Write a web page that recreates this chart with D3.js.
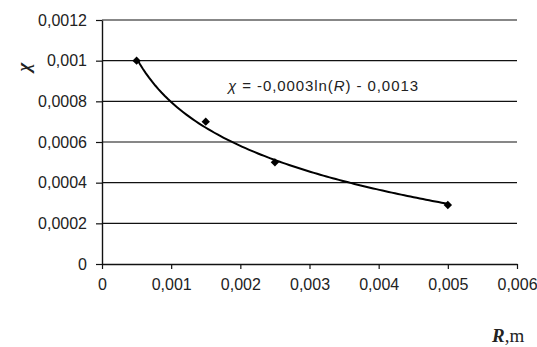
<!DOCTYPE html>
<html>
<head>
<meta charset="utf-8">
<script src="https://cdn.jsdelivr.net/npm/d3@7"></script>
<style>
body { margin: 0; background: #fff; }
svg text { fill: #222; }
</style>
</head>
<body>
<div id="chart"></div>
<script>
// data
const radius = [0.0005, 0.0015, 0.0025, 0.005];
const chi = [0.001, 0.0007, 0.0005, 0.00029];
const xTicks = [0, 0.001, 0.002, 0.003, 0.004, 0.005, 0.006];
const yTicks = [0, 0.0002, 0.0004, 0.0006, 0.0008, 0.001, 0.0012];

const width = 537, height = 347;
const margin = { top: 20, right: 20, bottom: 83, left: 102 };
const sans = "'Liberation Sans', Arial, sans-serif";
const serif = "'Liberation Serif', 'Times New Roman', serif";

const fmt = d => d === 0 ? "0" : String(+d.toFixed(4)).replace(".", ",");

const svg = d3.select("#chart").append("svg")
  .attr("width", width)
  .attr("height", height);

const xScale = d3.scaleLinear().domain([0, 0.006]).range([margin.left, width - margin.right]);
const yScale = d3.scaleLinear().domain([0, 0.0012]).range([height - margin.bottom, margin.top]);

// horizontal grid lines
svg.append("g")
  .selectAll("line")
  .data(yTicks.filter(d => d > 0))
  .join("line")
  .attr("x1", xScale(0))
  .attr("x2", xScale(0.006))
  .attr("y1", d => yScale(d))
  .attr("y2", d => yScale(d))
  .attr("stroke", "#111")
  .attr("stroke-width", 1.2);

const xAxis = svg.append("g")
  .attr("transform", `translate(0,${yScale(0)})`)
  .call(d3.axisBottom(xScale).tickValues(xTicks).tickFormat(fmt).tickSize(5).tickSizeOuter(0).tickPadding(10));

const yAxis = svg.append("g")
  .attr("transform", `translate(${xScale(0)},0)`)
  .call(d3.axisLeft(yScale).tickValues(yTicks).tickFormat(fmt).tickSize(6).tickSizeOuter(0).tickPadding(9));

[xAxis, yAxis].forEach(g => {
  g.select(".domain").attr("stroke", "#111").attr("stroke-width", 1.4);
  g.selectAll(".tick line").attr("stroke", "#111").attr("stroke-width", 1.2);
  g.selectAll(".tick text")
    .style("font-family", sans)
    .style("font-size", "16px")
    .attr("fill", "#222");
});

// logarithmic trend fitted to the points (least squares, as the spreadsheet does)
const lx = radius.map(Math.log);
const mx = d3.mean(lx), my = d3.mean(chi);
const slope = d3.sum(lx, (v, i) => (v - mx) * (chi[i] - my)) / d3.sum(lx, v => (v - mx) ** 2);
const icpt = my - slope * mx;
const trend = d3.range(0, 101).map(i => {
  const r = radius[0] + (radius[radius.length - 1] - radius[0]) * i / 100;
  return [r, slope * Math.log(r) + icpt];
});

svg.append("path")
  .datum(trend)
  .attr("fill", "none")
  .attr("stroke", "#000")
  .attr("stroke-width", 2)
  .attr("d", d3.line().x(d => xScale(d[0])).y(d => yScale(d[1])));

// diamond markers
svg.append("g")
  .selectAll("path")
  .data(radius.map((r, i) => [r, chi[i]]))
  .join("path")
  .attr("transform", d => `translate(${xScale(d[0])},${yScale(d[1])})`)
  .attr("d", d3.symbol(d3.symbolDiamond2, 45))
  .attr("fill", "#000");

// equation label
const eq = svg.append("text")
  .attr("x", 228)
  .attr("y", 91)
  .style("font-family", sans)
  .style("font-size", "15px")
  .attr("textLength", 190)
  .attr("lengthAdjust", "spacing");
eq.append("tspan").style("font-style", "italic").text("χ");
eq.append("tspan").text(" = -0,0003ln(");
eq.append("tspan").style("font-style", "italic").text("R");
eq.append("tspan").text(") - 0,0013");

// axis titles
svg.append("text")
  .attr("transform", "translate(30,67) rotate(-90)")
  .attr("text-anchor", "middle")
  .style("font-family", serif)
  .style("font-weight", "bold")
  .style("font-style", "italic")
  .style("font-size", "19px")
  .text("χ");

const rt = svg.append("text")
  .attr("x", 492)
  .attr("y", 342)
  .style("font-family", serif)
  .style("font-size", "19px");
rt.append("tspan").style("font-weight", "bold").style("font-style", "italic").text("R");
rt.append("tspan").text(",m");
</script>
</body>
</html>
